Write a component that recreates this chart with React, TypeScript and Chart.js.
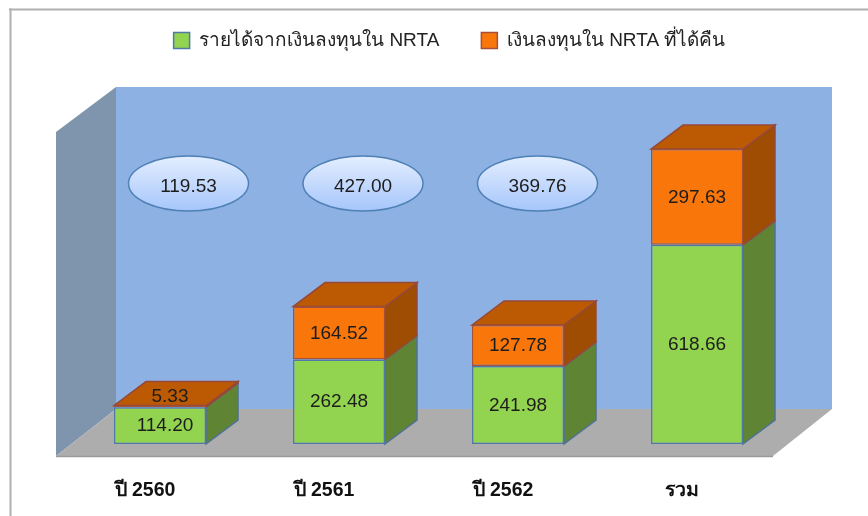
import React, { useEffect, useRef } from "react";
import { Chart, registerables } from "chart.js";

Chart.register(...registerables);

const categories = ["ปี 2560", "ปี 2561", "ปี 2562", "รวม"];
const incomeValues = [114.2, 262.48, 241.98, 618.66];
const returnedValues = [5.33, 164.52, 127.78, 297.63];
const ovalValues = [119.53, 427.0, 369.76];
const seriesNames = ["รายได้จากเงินลงทุนใน NRTA", "เงินลงทุนใน NRTA ที่ได้คืน"];

const FONT = '"Liberation Sans", "Noto Sans", sans-serif';
const DX = 32;
const DY = 24;

function poly(ctx: CanvasRenderingContext2D, pts: number[][], fill: string, stroke?: string, lw = 1) {
  ctx.beginPath();
  pts.forEach((p, i) => (i ? ctx.lineTo(p[0], p[1]) : ctx.moveTo(p[0], p[1])));
  ctx.closePath();
  ctx.fillStyle = fill;
  ctx.fill();
  if (stroke) {
    ctx.strokeStyle = stroke;
    ctx.lineWidth = lw;
    ctx.stroke();
  }
}

const scene = {
  id: "scene",
  afterLayout(chart: any) {
    const lg = chart.legend;
    lg.left += 21;
    lg.right += 21;
  },
  beforeDatasetsDraw(chart: any) {
    const ctx: CanvasRenderingContext2D = chart.ctx;
    ctx.save();
    // frame
    ctx.fillStyle = "#b0b0b0";
    ctx.fillRect(9, 8.5, 859, 2);
    ctx.fillRect(9.5, 8.5, 2, 508);
    // walls
    poly(ctx, [[116, 87], [832, 87], [832, 409], [116, 409]], "#8db1e3");
    poly(ctx, [[56, 132], [116, 87], [116, 409], [56, 456]], "#7f94ad");
    poly(ctx, [[56, 456], [116, 409], [832, 409], [773, 456]], "#adadad");
    ctx.strokeStyle = "#9a9a9a";
    ctx.lineWidth = 1.5;
    ctx.beginPath();
    ctx.moveTo(56, 456.5);
    ctx.lineTo(773, 456.5);
    ctx.stroke();

    const m0 = chart.getDatasetMeta(0).data;
    const m1 = chart.getDatasetMeta(1).data;
    m0.forEach((b0: any, i: number) => {
      const b1 = m1[i];
      const r = b0.x + b0.width / 2;
      const l = b0.x - b0.width / 2;
      poly(ctx, [[r, b0.base], [r + DX, b0.base - DY], [r + DX, b0.y - DY], [r, b0.y]], "#5e8434", "#4f7196", 1.5);
      poly(ctx, [[r, b1.base], [r + DX, b1.base - DY], [r + DX, b1.y - DY], [r, b1.y]], "#9e4d02", "#96483a", 1.5);
      poly(ctx, [[l, b1.y], [l + DX, b1.y - DY], [r + DX, b1.y - DY], [r, b1.y]], "#bb5a03", "#96483a", 1.5);
    });
    ctx.restore();
  },
  afterDatasetsDraw(chart: any) {
    const ctx: CanvasRenderingContext2D = chart.ctx;
    const x = chart.scales.x;
    const y = chart.scales.y;
    ctx.save();
    ctx.textAlign = "center";
    ctx.textBaseline = "middle";
    ctx.font = `19px ${FONT}`;
    ctx.fillStyle = "#1d1d1d";
    [0, 1].forEach((d) => {
      chart.getDatasetMeta(d).data.forEach((b: any, i: number) => {
        const v = chart.data.datasets[d].data[i] as number;
        const shift = i === 0 ? (d === 0 ? 5 : 10) : 0;
        const lift = i === 0 && d === 1 ? 10 : 0;
        ctx.fillText(v.toFixed(2), b.x + shift, (b.y + b.base) / 2 - lift + 0.5);
      });
    });
    ovalValues.forEach((v, i) => {
      const cx = x.getPixelForValue(i) + 28.5 - 4.5 * i;
      const cy = y.getPixelForValue(809);
      const g = ctx.createLinearGradient(0, cy - 27, 0, cy + 27);
      g.addColorStop(0, "#e3eeff");
      g.addColorStop(1, "#a6c6fb");
      ctx.beginPath();
      ctx.ellipse(cx, cy, 60, 27.5, 0, 0, Math.PI * 2);
      ctx.fillStyle = g;
      ctx.fill();
      ctx.strokeStyle = "#4f81b5";
      ctx.lineWidth = 1.5;
      ctx.stroke();
      ctx.fillStyle = "#1d1d1d";
      ctx.fillText(v.toFixed(2), cx, cy + 3.5);
    });
    ctx.restore();
  },
};

export default function App() {
  const ref = useRef<HTMLCanvasElement>(null);
  useEffect(() => {
    const chart = new Chart(ref.current as HTMLCanvasElement, {
      type: "bar",
      data: {
        labels: categories,
        datasets: [
          { label: seriesNames[0], data: incomeValues, backgroundColor: "#92d34f", borderColor: "#4f7aa8", borderWidth: 1.5, borderSkipped: false },
          { label: seriesNames[1], data: returnedValues, backgroundColor: "#f9760a", borderColor: "#a5503a", borderWidth: 1.5, borderSkipped: false },
        ],
      },
      options: {
        animation: false,
        responsive: false,
        layout: { padding: { top: -11, left: 70.5, right: 81.5, bottom: 0 } },
        datasets: { bar: { barPercentage: 92 / 179, categoryPercentage: 1 } },
        plugins: {
          legend: {
            position: "top",
            labels: { font: { family: FONT, size: 19 }, color: "#222", boxWidth: 16, boxHeight: 16, padding: 42 },
          },
          tooltip: { enabled: false },
        },
        scales: {
          x: {
            stacked: true,
            grid: { display: false },
            border: { display: false },
            afterFit: (s: any) => { s.height = 72; },
            ticks: { color: "#111", font: { family: FONT, size: 19.5, weight: "bold" }, padding: 27, labelOffset: -15, maxRotation: 0 },
          },
          y: { stacked: true, display: false, min: 0, max: 1193 },
        },
      } as any,
      plugins: [scene],
    });
    return () => chart.destroy();
  }, []);
  return <canvas ref={ref} width={868} height={516} style={{ position: "fixed", left: 0, top: 0, width: 868, height: 516, background: "#fff" }} />;
}
